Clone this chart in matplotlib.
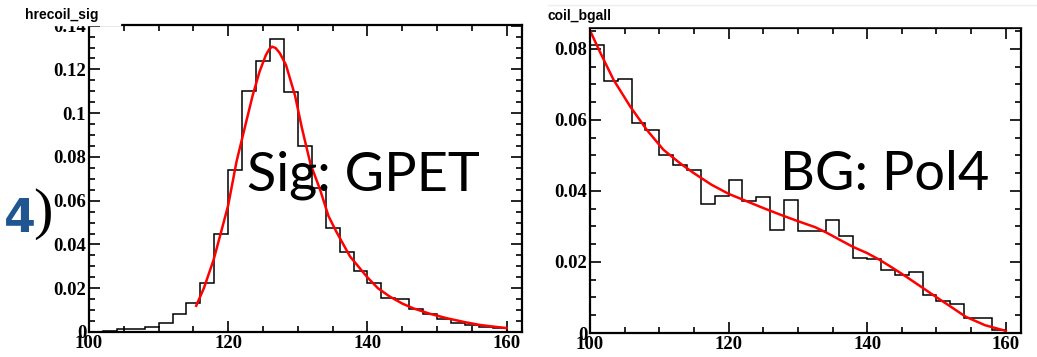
# ROOT-style fit panels: signal (GPET) and background (Pol4)

import matplotlib
matplotlib.use("Agg")
import matplotlib.pyplot as plt
from matplotlib.patches import Rectangle
from matplotlib.ticker import MultipleLocator, FormatStrFormatter
import numpy as np

bin_edges = np.arange(100, 162, 2)

sig_counts = [0.0, 0.0005, 0.0012, 0.0015, 0.0022, 0.0042, 0.0083, 0.0133,
              0.0225, 0.0446, 0.0741, 0.1100, 0.1238, 0.1337, 0.1097, 0.0851,
              0.0657, 0.0477, 0.0367, 0.0279, 0.0226, 0.0155, 0.0152, 0.0106,
              0.0084, 0.0061, 0.0042, 0.0033, 0.0022, 0.0016]

# red fit curve
sig_fit_x = [115.4, 116.5, 117.9, 119.0, 120.0, 121.2, 122.5, 123.5, 124.5,
             125.4, 125.9, 126.3, 126.8, 127.4, 128.3, 129.6, 130.6, 131.8,
             133.2, 134.4, 135.5, 137.5, 139.9, 141.5, 143.2, 145.0, 146.6,
             149.0, 151.4, 154.0, 156.2, 158.0, 160.0]
sig_fit_y = [0.012, 0.020, 0.033, 0.046, 0.058, 0.078, 0.095, 0.108, 0.119,
             0.1265, 0.1293, 0.1304, 0.1298, 0.1275, 0.122, 0.108, 0.093,
             0.077, 0.065, 0.053, 0.046, 0.0345, 0.0253, 0.020, 0.0162, 0.013,
             0.0108, 0.0083, 0.0063, 0.0045, 0.0032, 0.0025, 0.0018]

bg_counts = [0.0812, 0.0711, 0.0716, 0.0592, 0.0573, 0.0502, 0.0473, 0.0458,
             0.0364, 0.0385, 0.0430, 0.0373, 0.0383, 0.0291, 0.0374, 0.0286,
             0.0286, 0.0317, 0.0274, 0.0211, 0.0208, 0.0177, 0.0164, 0.0171,
             0.0108, 0.0091, 0.0083, 0.0042, 0.0042, 0.0009]

bg_fit_x = [100.0, 101.5, 103.4, 105.8, 108.2, 110.6, 113.0, 115.0, 117.5,
            120.0, 122.5, 125.0, 127.5, 130.0, 132.5, 134.1, 136.0, 137.9,
            140.0, 141.8, 143.7, 145.6, 147.8, 149.9, 152.0, 154.2, 157.0,
            160.0]
bg_fit_y = [0.0852, 0.0789, 0.0713, 0.0638, 0.0572, 0.0516, 0.0478, 0.0450,
            0.0418, 0.0392, 0.0372, 0.0352, 0.0333, 0.0315, 0.0298, 0.0283,
            0.0263, 0.0243, 0.0225, 0.0206, 0.0183, 0.0159, 0.0130, 0.0102,
            0.0075, 0.0046, 0.0022, 0.0006]

tick_font = dict(family="Liberation Serif", weight="bold", size=13.5)

fig = plt.figure(figsize=(10.37, 3.57), dpi=100)
W, H = 1037, 357


def px_axes(x0, x1, ytop, ybot):
    return fig.add_axes([x0 / W, 1 - ybot / H, (x1 - x0) / W, (ybot - ytop) / H])


def style(ax, ymax):
    ax.set_xlim(100, 162.2)
    ax.set_ylim(0, ymax)
    ax.xaxis.set_major_locator(MultipleLocator(20))
    ax.xaxis.set_minor_locator(MultipleLocator(5))
    ax.yaxis.set_major_locator(MultipleLocator(0.02))
    ax.yaxis.set_minor_locator(MultipleLocator(0.005))
    ax.yaxis.set_major_formatter(FormatStrFormatter("%g"))
    ax.tick_params(which="both", direction="in", top=True, right=True,
                   width=1.2, pad=2)
    ax.tick_params(which="major", length=8)
    ax.tick_params(which="minor", length=4.5)
    for lab in ax.get_xticklabels() + ax.get_yticklabels():
        lab.set_fontproperties(matplotlib.font_manager.FontProperties(**tick_font))
    for s in ax.spines.values():
        s.set_linewidth(1.6)


ax1 = px_axes(89, 522, 25, 332)
ax1.stairs(sig_counts, bin_edges, color="black", lw=1.1)
ax1.plot(sig_fit_x, sig_fit_y, color="red", lw=1.8)
style(ax1, 0.1403)
ax1.text(0.365, 0.4625, "Sig: GPET", transform=ax1.transAxes, family="Lato",
         fontsize=39, va="baseline", ha="left")

ax2 = px_axes(590, 1021, 28, 333)
ax2.stairs(bg_counts, bin_edges, color="black", lw=1.1)
ax2.plot(bg_fit_x, bg_fit_y, color="red", lw=1.8)
style(ax2, 0.0859)
ax2.text(0.441, 0.469, "BG: Pol4", transform=ax2.transAxes, family="Lato",
         fontsize=39, va="baseline", ha="left")

# title boxes on top of the panels
fig.patches.append(Rectangle((20 / W, 1 - 25 / H), 100 / W, 25 / H,
                             transform=fig.transFigure, color="white", zorder=5))
fig.patches.append(Rectangle((545 / W, 1 - 26 / H), 492 / W, 21 / H,
                             transform=fig.transFigure, color="white", zorder=5))
fig.lines.append(plt.Line2D([548 / W, 1], [1 - 5 / H, 1 - 5 / H],
                            transform=fig.transFigure, color="#eeeeee", lw=1, zorder=6))
fig.text(25 / W, 1 - 19 / H, "hrecoil_sig", family="Liberation Sans",
         weight="bold", fontsize=10, va="baseline", zorder=7)
fig.text(548 / W, 1 - 20 / H, "coil_bgall", family="Liberation Sans",
         weight="bold", fontsize=10, va="baseline", zorder=7)

# panel label
fig.text(4 / W, 1 - 232 / H, "4", family="DejaVu Sans", weight="bold",
         fontsize=33, color="#1f5591", va="baseline", zorder=7)
fig.text(33 / W, 1 - 214 / H, ")", family="Liberation Serif", fontsize=42,
         va="center", zorder=7)

fig.savefig("out.png", dpi=100)
